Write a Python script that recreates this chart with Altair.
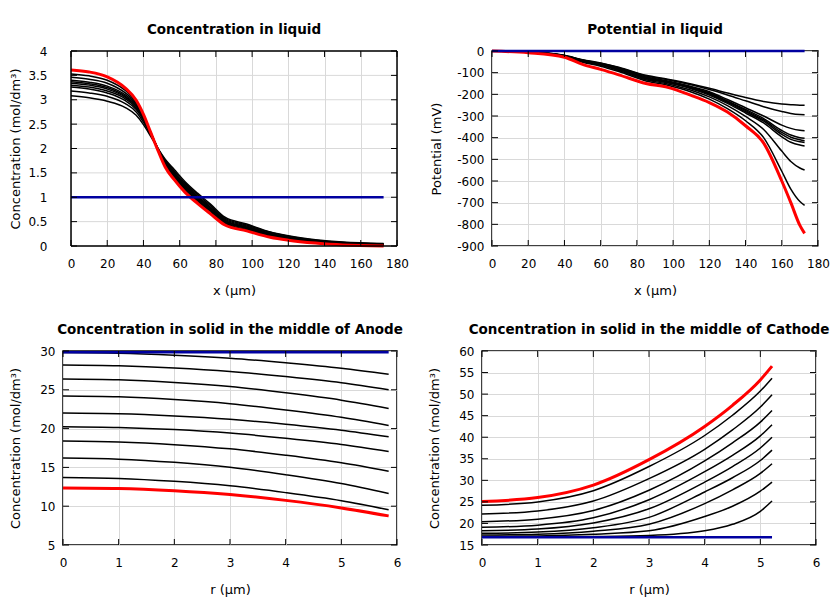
import altair as alt
import pandas as pd

FONT = "DejaVu Sans"

# ---------------- Panel 1: Concentration in liquid ----------------
liq_x = [0, 10, 20, 30, 36, 40, 44, 48, 52, 57, 63, 70, 77, 85, 97, 110, 120, 135, 150, 172.6]
liq_black = [
    [3.53, 3.49, 3.40, 3.19, 2.96, 2.69, 2.33, 1.97, 1.65, 1.39, 1.13, 0.89, 0.68, 0.45, 0.32, 0.19, 0.13, 0.07, 0.03, 0.01],
    [3.46, 3.42, 3.34, 3.14, 2.93, 2.67, 2.33, 1.98, 1.67, 1.42, 1.16, 0.92, 0.71, 0.47, 0.34, 0.21, 0.14, 0.08, 0.04, 0.02],
    [3.40, 3.36, 3.28, 3.10, 2.90, 2.65, 2.33, 1.98, 1.69, 1.44, 1.18, 0.94, 0.73, 0.49, 0.36, 0.22, 0.15, 0.09, 0.05, 0.02],
    [3.37, 3.33, 3.25, 3.07, 2.88, 2.64, 2.32, 1.99, 1.70, 1.46, 1.20, 0.96, 0.75, 0.51, 0.37, 0.23, 0.16, 0.09, 0.05, 0.03],
    [3.34, 3.30, 3.22, 3.05, 2.86, 2.62, 2.32, 1.99, 1.71, 1.48, 1.22, 0.98, 0.77, 0.52, 0.38, 0.24, 0.17, 0.10, 0.06, 0.03],
    [3.30, 3.26, 3.18, 3.02, 2.83, 2.60, 2.31, 1.99, 1.72, 1.50, 1.24, 1.00, 0.78, 0.53, 0.39, 0.25, 0.18, 0.10, 0.06, 0.03],
    [3.26, 3.22, 3.14, 2.98, 2.80, 2.58, 2.30, 2.00, 1.74, 1.51, 1.26, 1.02, 0.80, 0.55, 0.41, 0.26, 0.18, 0.11, 0.07, 0.04],
    [3.18, 3.14, 3.07, 2.92, 2.75, 2.54, 2.28, 2.00, 1.76, 1.54, 1.29, 1.05, 0.83, 0.57, 0.43, 0.28, 0.20, 0.12, 0.07, 0.04],
    [3.08, 3.04, 2.97, 2.84, 2.68, 2.49, 2.25, 2.00, 1.78, 1.57, 1.32, 1.08, 0.86, 0.59, 0.45, 0.29, 0.21, 0.13, 0.08, 0.05],
]
liq_red = [3.61, 3.57, 3.47, 3.24, 2.99, 2.70, 2.33, 1.96, 1.62, 1.36, 1.10, 0.87, 0.66, 0.43, 0.31, 0.18, 0.12, 0.06, 0.02, 0.0]
liq_blue_x = [0, 172.6]
liq_blue = [1.0, 1.0]
liq_xticks = [0, 20, 40, 60, 80, 100, 120, 140, 160, 180]
liq_yticks = [0, 0.5, 1, 1.5, 2, 2.5, 3, 3.5, 4]

# ---------------- Panel 2: Potential in liquid ----------------
pot_x = [0, 20, 40, 50, 60, 70, 85, 97, 110, 120, 130, 140, 150, 160, 165, 170, 172.6]
pot_black = [
    [0, -4, -20, -40, -55, -75, -112, -130, -152, -172, -194, -215, -233, -245, -248, -250, -250],
    [0, -4, -21, -41, -57, -77, -115, -133, -156, -178, -203, -230, -257, -279, -288, -293, -294],
    [0, -5, -22, -43, -59, -80, -120, -138, -164, -188, -224, -262, -300, -342, -357, -366, -368],
    [0, -5, -22, -44, -60, -82, -122, -141, -167, -193, -230, -270, -312, -367, -388, -400, -403],
    [0, -5, -23, -45, -61, -83, -124, -143, -169, -196, -233, -275, -318, -376, -398, -410, -414],
    [0, -5, -23, -46, -62, -84, -126, -145, -171, -199, -237, -280, -324, -385, -408, -419, -422],
    [0, -5, -23, -47, -63, -86, -128, -147, -174, -203, -242, -286, -332, -396, -421, -434, -438],
    [0, -6, -24, -49, -66, -90, -133, -152, -181, -212, -252, -302, -362, -462, -510, -540, -549],
    [0, -6, -25, -52, -70, -95, -138, -158, -189, -222, -266, -322, -400, -555, -638, -695, -712],
]
pot_red = [0, -8, -29, -62, -85, -110, -150, -168, -205, -238, -282, -345, -425, -600, -700, -805, -842]
pot_blue_x = [0, 172.6]
pot_blue = [0, 0]
pot_xticks = [0, 20, 40, 60, 80, 100, 120, 140, 160, 180]
pot_yticks = [0, -100, -200, -300, -400, -500, -600, -700, -800, -900]

# ---------------- Panel 3: Solid, middle of Anode ----------------
an_r = [0, 1, 2, 3, 4, 5, 5.85]
an_black = [
    [29.8, 29.72, 29.46, 29.07, 28.48, 27.78, 27.0],
    [28.2, 28.1, 27.82, 27.37, 26.7, 25.9, 25.0],
    [26.4, 26.29, 25.94, 25.41, 24.61, 23.66, 22.6],
    [24.2, 24.09, 23.74, 23.21, 22.41, 21.46, 20.4],
    [22.0, 21.91, 21.63, 21.2, 20.57, 19.8, 18.95],
    [20.25, 20.15, 19.87, 19.42, 18.75, 17.95, 17.05],
    [18.4, 18.28, 17.93, 17.39, 16.57, 15.59, 14.5],
    [16.2, 16.06, 15.65, 15.02, 14.06, 12.92, 11.65],
    [13.7, 13.58, 13.2, 12.62, 11.75, 10.71, 9.55],
]
an_red = [12.35, 12.28, 11.99, 11.5, 10.75, 9.78, 8.75]
an_blue_x = [0, 5.85]
an_blue = [29.85, 29.85]
an_xticks = [0, 1, 2, 3, 4, 5, 6]
an_yticks = [5, 10, 15, 20, 25, 30]

# ---------------- Panel 4: Solid, middle of Cathode ----------------
ca_r = [0, 1, 2, 3, 4, 4.5, 5, 5.21]
ca_black = [
    [24.2, 25.0, 27.6, 33.2, 40.4, 45.1, 50.7, 53.7],
    [22.2, 22.9, 25.2, 30.4, 37.2, 41.7, 47.0, 49.85],
    [20.4, 21.0, 23.0, 27.7, 34.5, 38.7, 43.5, 46.2],
    [19.1, 19.6, 21.3, 25.5, 32.0, 35.8, 40.3, 42.9],
    [18.3, 18.7, 20.1, 23.4, 29.6, 33.2, 37.5, 40.0],
    [17.7, 18.0, 19.0, 21.4, 27.3, 30.6, 34.6, 37.0],
    [17.3, 17.5, 18.2, 19.8, 24.6, 27.8, 31.6, 33.85],
    [17.0, 17.1, 17.5, 18.3, 21.6, 24.0, 27.5, 29.6],
    [16.85, 16.86, 16.95, 17.2, 18.3, 19.8, 22.8, 25.2],
]
ca_red = [25.1, 26.0, 28.9, 34.8, 42.5, 47.4, 53.3, 56.5]
ca_blue_x = [0, 5.21]
ca_blue = [16.8, 16.8]
ca_xticks = [0, 1, 2, 3, 4, 5, 6]
ca_yticks = [15, 20, 25, 30, 35, 40, 45, 50, 55, 60]

CONC = "Concentration (mol/dm³)"


def long_df(xs, series):
    rows = []
    for i, ys in enumerate(series):
        for xv, yv in zip(xs, ys):
            rows.append({"x": xv, "y": yv, "s": i})
    return pd.DataFrame(rows)


def panel(title, xs, blacks, red, bx, by, xdom, xticks, ydom, yticks,
          xtitle, ytitle, w, h, extent, inset=0):
    vw = w + inset
    if inset:
        xsc = alt.Scale(domain=xdom, range=[inset, vw], nice=False, zero=False)
    else:
        xsc = alt.Scale(domain=xdom, nice=False, zero=False)
    ysc = alt.Scale(domain=ydom, nice=False, zero=False)
    xkw = dict(title=xtitle, values=xticks, labelExpr="toString(datum.value)",
               labelFlush=False, labelOverlap=False, ticks=False, domain=False,
               labelPadding=12, titlePadding=15, grid=True)
    if inset:
        xkw["titleX"] = (inset + vw) / 2
    xaxis = alt.Axis(**xkw)
    yaxis = alt.Axis(title=ytitle, values=yticks, labelExpr="toString(datum.value)",
                     labelOverlap=False, ticks=False, domain=False,
                     labelPadding=8 + inset, titlePadding=4,
                     minExtent=extent, maxExtent=extent, grid=(inset == 0))
    X = lambda: alt.X("x:Q", scale=xsc, axis=xaxis)
    Y = lambda: alt.Y("y:Q", scale=ysc, axis=yaxis)
    XD = lambda v: alt.XDatum(v, scale=xsc, axis=xaxis)
    xt = pd.DataFrame({"x": xticks})
    yt = pd.DataFrame({"y": yticks})
    layers = []
    if inset:
        layers.append(alt.Chart(yt).mark_rule(color="#d9d9d9", strokeWidth=1).encode(
            y=Y(), x=XD(xdom[0]), x2=alt.datum(xdom[1])))
    layers.append(alt.Chart(long_df(xs, blacks)).mark_line(
        color="black", strokeWidth=1.5, interpolate="monotone"
    ).encode(x=X(), y=Y(), detail="s:N"))
    layers.append(alt.Chart(pd.DataFrame({"x": xs, "y": red})).mark_line(
        color="#ff0000", strokeWidth=3, interpolate="monotone"
    ).encode(x=X(), y=Y()))
    layers.append(alt.Chart(pd.DataFrame({"x": bx, "y": by})).mark_line(
        color="#0000a0", strokeWidth=2.5
    ).encode(x=X(), y=Y()))
    layers.append(alt.Chart(xt).mark_rule(color="black", strokeWidth=1).encode(
        x=X(), y=alt.value(h), y2=alt.value(h - 6)))
    layers.append(alt.Chart(xt).mark_rule(color="black", strokeWidth=1).encode(
        x=X(), y=alt.value(0), y2=alt.value(6)))
    layers.append(alt.Chart(yt).mark_rule(color="black", strokeWidth=1).encode(
        y=Y(), x=alt.value(inset), x2=alt.value(inset + 6)))
    layers.append(alt.Chart(yt).mark_rule(color="black", strokeWidth=1).encode(
        y=Y(), x=alt.value(vw), x2=alt.value(vw - 6)))
    if inset:
        fr = pd.DataFrame({"x": [xdom[0], xdom[1]]})
        layers.append(alt.Chart(fr).mark_rule(color="black", strokeWidth=1.5).encode(
            x=X(), y=alt.value(0), y2=alt.value(h)))
        fy = pd.DataFrame({"y": [ydom[0], ydom[1]]})
        layers.append(alt.Chart(fy).mark_rule(color="black", strokeWidth=1.5).encode(
            y=Y(), x=XD(xdom[0]), x2=alt.datum(xdom[1])))
    props = dict(width=vw, height=h,
                 title=alt.TitleParams(text=title, anchor="middle", dx=inset / 2))
    if inset:
        props["view"] = alt.ViewBackground(stroke="transparent")
    return alt.layer(*layers).properties(**props)


p1 = panel("Concentration in liquid", liq_x, liq_black, liq_red, liq_blue_x, liq_blue,
           [0, 180], liq_xticks, [0, 4], liq_yticks, "x (µm)", CONC, 326, 195, 37, inset=8)
p2 = panel("Potential in liquid", pot_x, pot_black, pot_red, pot_blue_x, pot_blue,
           [0, 180], pot_xticks, [-900, 0], pot_yticks, "x (µm)", "Potential (mV)", 326, 195, 45)
p3 = panel("Concentration in solid in the middle of Anode", an_r, an_black, an_red,
           an_blue_x, an_blue, [0, 6], an_xticks, [5, 30], an_yticks, "r (µm)", CONC, 334, 194, 37)
p4 = panel("Concentration in solid in the middle of Cathode", ca_r, ca_black, ca_red,
           ca_blue_x, ca_blue, [0, 6], ca_xticks, [15, 60], ca_yticks, "r (µm)", CONC, 334, 194, 37)

row1 = alt.hconcat(p1, p2, spacing=19)
row2 = alt.hconcat(p3, p4, spacing=23)

chart = alt.vconcat(row1, row2, spacing=23).properties(
    padding={"left": 0, "top": 13, "right": 0, "bottom": 0},
    background="white",
).configure_view(
    stroke="black", strokeWidth=1.5
).configure_axis(
    labelFont=FONT, labelFontSize=12, labelColor="black",
    titleFont=FONT, titleFontSize=13, titleFontWeight="normal", titleColor="black",
    gridColor="#d9d9d9", gridWidth=1
).configure_title(
    font=FONT, fontSize=13.5, fontWeight="bold", color="black", offset=9
)

chart.save("out.html", embed_options={"renderer": "svg", "actions": False})
